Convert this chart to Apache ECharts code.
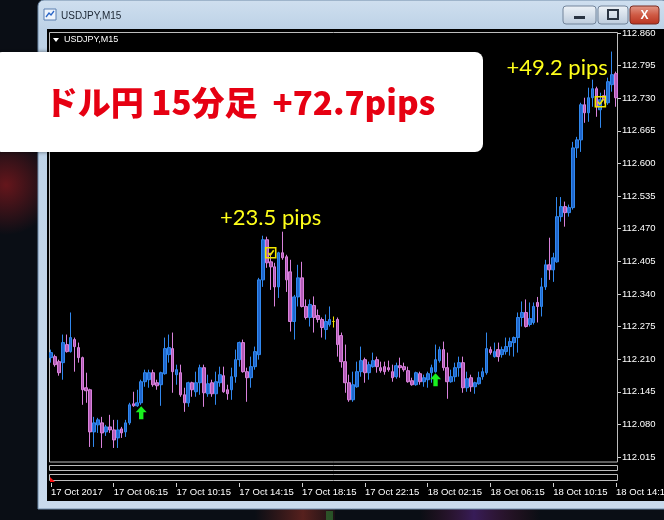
<!DOCTYPE html>
<html><head><meta charset="utf-8">
<script src="https://cdn.jsdelivr.net/npm/echarts@6/dist/echarts.min.js"></script>
<style>html,body{margin:0;padding:0;background:#0a0e15;}#c{width:664px;height:520px;}</style>
</head><body><div id="c"></div>
<script>
// ---- data (USDJPY M15, 145 bars) ----
const opens = [112.213,112.215,112.205,112.203,112.239,112.225,112.249,112.233,112.213,112.153,
112.149,112.065,112.079,112.083,112.065,112.075,112.069,112.053,112.071,112.065,
112.083,112.121,112.117,112.123,112.165,112.169,112.183,112.163,112.159,112.181,
112.219,112.231,112.179,112.183,112.139,112.123,112.163,112.145,112.163,112.193,
112.141,112.163,112.141,112.163,112.177,112.149,112.149,112.175,112.209,112.243,
112.185,112.173,112.195,112.219,112.368,112.448,112.404,112.394,112.354,112.422,
112.414,112.384,112.285,112.334,112.372,112.315,112.293,112.317,112.297,112.289,
112.269,112.279,112.285,112.289,112.257,112.205,112.163,112.129,112.155,112.185,
112.209,112.183,112.195,112.209,112.193,112.195,112.193,112.185,112.175,112.197,
112.195,112.187,112.167,112.159,112.181,112.165,112.169,112.183,112.185,112.207,
112.229,112.193,112.165,112.175,112.193,112.203,112.153,112.173,112.155,112.161,
112.175,112.183,112.229,112.215,112.229,112.219,112.225,112.235,112.243,112.253,
112.293,112.303,112.279,112.283,112.323,112.315,112.354,112.398,112.388,112.404,
112.494,112.514,112.502,112.512,112.631,112.647,112.717,112.701,112.731,112.749,
112.707,112.735,112.721,112.757,112.779];
const closes = [112.223,112.199,112.183,112.243,112.225,112.253,112.235,112.213,112.149,112.147,
112.065,112.083,112.089,112.063,112.075,112.069,112.049,112.069,112.063,112.083,
112.119,112.117,112.123,112.165,112.183,112.183,112.159,112.157,112.183,112.231,
112.233,112.185,112.189,112.139,112.123,112.163,112.149,112.163,112.193,112.143,
112.161,112.141,112.165,112.179,112.145,112.141,112.175,112.209,112.243,112.185,
112.173,112.195,112.225,112.368,112.448,112.402,112.394,112.354,112.422,112.412,
112.368,112.285,112.334,112.372,112.315,112.293,112.319,112.293,112.289,112.273,
112.285,112.289,112.285,112.239,112.205,112.163,112.129,112.159,112.185,112.207,
112.183,112.199,112.207,112.195,112.187,112.185,112.189,112.173,112.197,112.193,
112.189,112.165,112.159,112.183,112.165,112.173,112.181,112.193,112.209,112.229,
112.193,112.165,112.175,112.193,112.203,112.153,112.171,112.155,112.163,112.173,
112.185,112.231,112.223,112.225,112.215,112.229,112.235,112.245,112.253,112.293,
112.303,112.275,112.291,112.315,112.315,112.354,112.398,112.388,112.412,112.494,
112.514,112.502,112.512,112.631,112.647,112.717,112.701,112.731,112.749,112.713,
112.727,112.727,112.763,112.777,112.731];
const lows = [112.203,112.195,112.177,112.169,112.223,112.223,112.185,112.203,112.119,112.123,
112.035,112.035,112.063,112.033,112.057,112.063,112.033,112.033,112.053,112.055,
112.079,112.115,112.115,112.119,112.155,112.153,112.155,112.149,112.117,112.179,
112.203,112.143,112.159,112.135,112.105,112.115,112.135,112.135,112.139,112.115,
112.135,112.135,112.119,112.155,112.143,112.129,112.129,112.163,112.195,112.183,
112.125,112.153,112.189,112.209,112.354,112.392,112.348,112.315,112.332,112.408,
112.344,112.265,112.249,112.315,112.313,112.289,112.275,112.263,112.283,112.253,
112.249,112.275,112.273,112.215,112.193,112.143,112.125,112.125,112.153,112.175,
112.163,112.169,112.193,112.183,112.183,112.179,112.185,112.165,112.171,112.173,
112.185,112.163,112.157,112.157,112.159,112.155,112.153,112.163,112.183,112.203,
112.187,112.131,112.163,112.165,112.175,112.143,112.145,112.145,112.141,112.159,
112.169,112.179,112.219,112.213,112.205,112.213,112.219,112.217,112.215,112.223,
112.275,112.273,112.275,112.279,112.283,112.295,112.348,112.368,112.364,112.402,
112.484,112.474,112.494,112.508,112.611,112.623,112.681,112.683,112.713,112.693,
112.671,112.719,112.717,112.743,112.713];
const highs = [112.229,112.219,112.209,112.259,112.259,112.303,112.253,112.243,112.215,112.183,
112.151,112.095,112.093,112.095,112.079,112.099,112.089,112.089,112.075,112.089,
112.123,112.145,112.149,112.169,112.189,112.189,112.189,112.169,112.185,112.253,
112.259,112.263,112.199,112.199,112.153,112.165,112.165,112.185,112.199,112.199,
112.179,112.169,112.185,112.195,112.195,112.159,112.193,112.229,112.245,112.249,
112.193,112.215,112.235,112.372,112.456,112.454,112.422,112.402,112.424,112.464,
112.418,112.408,112.338,112.398,112.404,112.329,112.329,112.335,112.309,112.293,
112.299,112.315,112.295,112.293,112.263,112.239,112.179,112.185,112.205,112.235,
112.213,112.205,112.223,112.215,112.205,112.205,112.207,112.199,112.203,112.213,
112.203,112.195,112.173,112.185,112.185,112.179,112.185,112.199,112.239,112.235,
112.245,112.223,112.189,112.203,112.215,112.215,112.185,112.179,112.165,112.185,
112.193,112.263,112.235,112.243,112.243,112.235,112.253,112.253,112.255,112.303,
112.325,112.329,112.323,112.323,112.334,112.372,112.408,112.452,112.422,112.533,
112.533,112.524,112.518,112.643,112.653,112.721,112.731,112.751,112.767,112.753,
112.741,112.747,112.771,112.823,112.783];
const xTickLabels = ['17 Oct 2017','17 Oct 06:15','17 Oct 10:15','17 Oct 14:15','17 Oct 18:15',
  '17 Oct 22:15','18 Oct 02:15','18 Oct 06:15','18 Oct 10:15','18 Oct 14:15'];
const yTickValues = [112.860,112.795,112.730,112.665,112.600,112.535,112.470,112.405,
  112.340,112.275,112.210,112.145,112.080,112.015];
const entryBars = [23, 98];
const entryPrices = [112.103, 112.169];
const exitBars = [56, 140];
const exitPrices = [112.422, 112.723];
const pipTexts = ['+23.5 pips', '+49.2 pips'];
const pipBars = [56, 129];
const pipPrices = [112.492, 112.791];
const titleText = 'ドル円 15分足  +72.7pips';

// categories: 15-minute bar times
const categories = [];
for (let i = 0; i < opens.length; i++) {
  const m = 2 * 60 + 15 + i * 15;
  const d = 17 + Math.floor(m / 1440);
  const mm = m % 1440;
  categories.push(d + ' Oct ' + String(Math.floor(mm / 60)).padStart(2, '0') + ':' + String(mm % 60).padStart(2, '0'));
}
const candles = opens.map((o, i) => [o, closes[i], lows[i], highs[i]]);

const arrowPath = 'path://M5,0 L10,6 L7,6 L7,13 L3,13 L3,6 L0,6 Z';
const checkPath = 'path://M0,0 L10,0 L10,10 L0,10 Z M2.5,5 L4.5,7.5 L8,2.5';

const markData = [];
entryBars.forEach((b, k) => markData.push({
  coord: [categories[b], entryPrices[k]], symbol: arrowPath, symbolSize: [11, 13],
  itemStyle: {color: '#19f01e', borderWidth: 0}, label: {show: false}
}));
exitBars.forEach((b, k) => markData.push({
  coord: [categories[b], exitPrices[k]], symbol: checkPath, symbolSize: [10, 10],
  itemStyle: {color: 'rgba(0,0,0,0)', borderColor: '#f2e600', borderWidth: 1.6}, label: {show: false}
}));
pipBars.forEach((b, k) => markData.push({
  coord: [categories[b], pipPrices[k]], symbol: 'circle', symbolSize: 1,
  itemStyle: {color: 'rgba(0,0,0,0)'},
  label: {show: true, position: 'inside', formatter: pipTexts[k], color: '#ffff1a',
    fontFamily: 'Lato', fontSize: 22, fontWeight: 'normal'}
}));

const chart = echarts.init(document.getElementById('c'), null, {renderer: 'canvas'});
const FONT = 'Liberation Sans';
chart.setOption({
  backgroundColor: '#0a0e15',
  animation: false,
  grid: {left: 49, right: 46, top: 33, bottom: 59, containLabel: false, outerBoundsMode: 'none'},
  xAxis: {
    type: 'category', data: categories, boundaryGap: true, offset: 22,
    axisLine: {show: false},
    axisTick: {show: true, interval: 15, alignWithLabel: true, length: 4, lineStyle: {color: '#d0d0d0'}},
    axisLabel: {interval: 15, align: 'left', margin: 4, color: '#ffffff', fontFamily: FONT, fontSize: 9.5,
      hideOverlap: false, formatter: (v, i) => xTickLabels[Math.round(i / 16)] || ''},
    splitLine: {show: false}
  },
  yAxis: {
    type: 'value', position: 'right', min: 112.007, max: 112.860, scale: true,
    axisLine: {show: false},
    axisTick: {show: true, customValues: yTickValues, length: 3, lineStyle: {color: '#d0d0d0'}},
    axisLabel: {customValues: yTickValues, margin: 4, color: '#ffffff', fontFamily: FONT, fontSize: 9.5,
      formatter: v => v.toFixed(3)},
    splitLine: {show: false}
  },
  series: [{
    type: 'candlestick', data: candles, barWidth: 3.2, z: 5,
    itemStyle: {color: '#1f66cc', color0: '#b25bb6', borderColor: '#3188ee', borderColor0: '#d982dc',
      borderColorDoji: '#f0e000', borderWidth: 1},
    markPoint: {data: markData, z: 6}
  }],
  graphic: [
    // desktop glow
    {type: 'circle', z: -30, shape: {cx: 6, cy: 185, r: 50}, style: {fill: {type: 'radial', x: 0.5, y: 0.5, r: 0.5,
      colorStops: [{offset: 0, color: 'rgba(140,25,30,0.7)'}, {offset: 1, color: 'rgba(140,25,30,0)'}]}}},
    {type: 'rect', z: -30, shape: {x: 255, y: 509, width: 80, height: 11}, style: {fill: {type: 'linear', x: 0, y: 0, x2: 1, y2: 0,
      colorStops: [{offset: 0, color: 'rgba(170,50,35,0)'}, {offset: 0.6, color: 'rgba(180,55,40,0.45)'}, {offset: 1, color: 'rgba(170,50,35,0.1)'}]}}},
    {type: 'rect', z: -30, shape: {x: 326, y: 511, width: 7, height: 9}, style: {fill: 'rgba(50,160,60,0.45)'}},
    {type: 'rect', z: -30, shape: {x: 420, y: 509, width: 120, height: 11}, style: {fill: {type: 'linear', x: 0, y: 0, x2: 1, y2: 0,
      colorStops: [{offset: 0, color: 'rgba(150,30,60,0)'}, {offset: 0.45, color: 'rgba(110,45,170,0.45)'}, {offset: 1, color: 'rgba(160,30,50,0)'}]}}},
    // window frame
    {type: 'rect', z: -20, shape: {x: 38, y: 0, width: 630, height: 509, r: [6, 6, 0, 0]},
      style: {fill: {type: 'linear', x: 0, y: 0, x2: 0, y2: 1,
        colorStops: [{offset: 0, color: '#cfdfef'}, {offset: 0.06, color: '#bcd1e6'}, {offset: 1, color: '#c9daec'}]},
        stroke: '#6f8aa8', lineWidth: 1}},
    // icon
    {type: 'rect', z: -19, shape: {x: 44, y: 9, width: 12, height: 11}, style: {fill: '#eef4fb', stroke: '#5a7fb0', lineWidth: 1}},
    {type: 'polyline', z: -18, shape: {points: [[46, 17], [49, 13], [51, 15], [54, 11]]}, style: {stroke: '#2a66c8', lineWidth: 1.3, fill: null}},
    {type: 'text', z: -18, x: 61, y: 16, style: {text: 'USDJPY,M15', fill: '#1b2633', font: '10px "Liberation Sans"', verticalAlign: 'middle'}},
    // buttons
    {type: 'rect', z: -19, shape: {x: 563, y: 6, width: 33, height: 18, r: 3}, style: {fill: {type: 'linear', x: 0, y: 0, x2: 0, y2: 1,
      colorStops: [{offset: 0, color: '#eef3f8'}, {offset: 1, color: '#bccbdc'}]}, stroke: '#72849a', lineWidth: 1}},
    {type: 'rect', z: -18, shape: {x: 574, y: 16, width: 11, height: 3}, style: {fill: '#2a3442'}},
    {type: 'rect', z: -19, shape: {x: 598, y: 6, width: 30, height: 18, r: 3}, style: {fill: {type: 'linear', x: 0, y: 0, x2: 0, y2: 1,
      colorStops: [{offset: 0, color: '#eef3f8'}, {offset: 1, color: '#bccbdc'}]}, stroke: '#72849a', lineWidth: 1}},
    {type: 'rect', z: -18, shape: {x: 608, y: 10, width: 10, height: 9}, style: {fill: null, stroke: '#2a3442', lineWidth: 2}},
    {type: 'rect', z: -19, shape: {x: 630, y: 6, width: 29, height: 18, r: 3}, style: {fill: {type: 'linear', x: 0, y: 0, x2: 0, y2: 1,
      colorStops: [{offset: 0, color: '#e39a8a'}, {offset: 0.5, color: '#cf5a44'}, {offset: 1, color: '#b8321e'}]}, stroke: '#7a2a20', lineWidth: 1}},
    {type: 'text', z: -18, x: 644.5, y: 15.5, style: {text: 'X', fill: '#ffffff', font: 'bold 12px "Liberation Sans"', align: 'center', verticalAlign: 'middle'}},
    // black chart window
    {type: 'rect', z: -15, shape: {x: 47, y: 29, width: 620, height: 472}, style: {fill: '#000000'}},
    {type: 'rect', z: -14, shape: {x: 49.5, y: 32.5, width: 568, height: 429.5}, style: {fill: null, stroke: '#bdbdbd', lineWidth: 1}},
    {type: 'rect', z: -14, shape: {x: 49.5, y: 465.5, width: 568, height: 5}, style: {fill: null, stroke: '#bdbdbd', lineWidth: 1}},
    {type: 'rect', z: -14, shape: {x: 49.5, y: 474.5, width: 568, height: 6}, style: {fill: null, stroke: '#bdbdbd', lineWidth: 1}},
    {type: 'polygon', z: -13, shape: {points: [[50, 477], [50, 482], [55, 482]]}, style: {fill: '#ff1010'}},
    {type: 'polygon', z: -13, shape: {points: [[53, 38], [59, 38], [56, 42]]}, style: {fill: '#ffffff'}},
    {type: 'text', z: -13, x: 64, y: 40, style: {text: 'USDJPY,M15', fill: '#ffffff', font: '9px "Liberation Sans"', verticalAlign: 'middle'}},
    // white title box
    {type: 'rect', z: 100, shape: {x: -6, y: 52, width: 489, height: 100, r: 8},
      style: {fill: '#ffffff', shadowBlur: 4, shadowColor: 'rgba(0,0,0,0.5)'}},
    {type: 'text', z: 101, x: 240, y: 102, style: {text: titleText, fill: '#e60012',
      font: '900 33px "Noto Sans CJK JP"', align: 'center', verticalAlign: 'middle'}}
  ]
});
</script></body></html>
